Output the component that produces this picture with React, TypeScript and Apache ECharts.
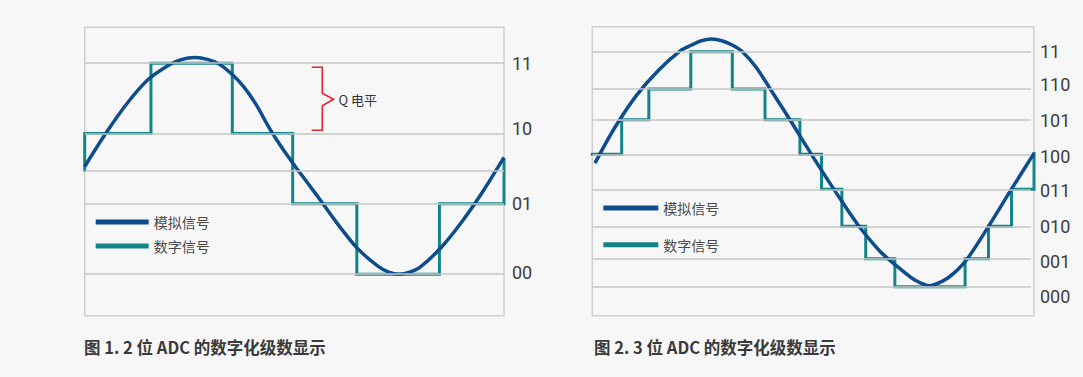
import React, { useEffect, useRef } from "react";
import * as echarts from "echarts";

// ---------- Left chart (2-bit ADC) ----------
const leftLevelLabels = ["00", "01", "10", "11"];
const leftLabelPos = [0.03, 1.0, 2.07, 3.0];
const leftGridValues = [0, 1, 1.47, 2, 3];
const leftAnalogX = [0, 5, 10, 15, 20, 23, 26.3, 29.5, 32, 35, 38, 41, 44, 47, 50, 53, 56, 60, 65, 70, 72.5, 75, 77.5, 80, 85, 90, 95, 100];
const leftAnalogY = [1.53, 2.0, 2.42, 2.76, 2.97, 3.05, 3.08, 3.05, 2.99, 2.85, 2.66, 2.4, 2.08, 1.8, 1.55, 1.31, 1.07, 0.74, 0.37, 0.11, 0.03, 0.0, 0.03, 0.1, 0.38, 0.75, 1.18, 1.66];
const leftStepX = [0, 15.8, 35.2, 49.6, 64.9, 84.6, 100];
const leftStepLevels = [2, 3, 2, 1, 0, 1];
const leftStepStart = 1.48;
const leftStepEnd = 1.62;

// ---------- Right chart (3-bit ADC) ----------
const rightLevelLabels = ["000", "001", "010", "011", "100", "101", "110", "11"];
const rightLevelPos = [0, 0.834, 1.799, 2.901, 3.944, 4.975, 5.889, 7];
const rightLabelPos = [-0.28, 0.76, 1.8, 2.86, 3.89, 4.94, 6.03, 7];
const rightAnalogX = [0.6, 5, 10, 15, 20, 22.5, 24.5, 27, 29.5, 32, 34, 37, 40, 45, 50, 55, 60, 65, 67, 70, 73, 76.4, 79.5, 82, 85, 90, 95, 100];
const rightAnalogY = [3.68, 4.72, 5.7, 6.45, 7.03, 7.2, 7.32, 7.38, 7.32, 7.18, 7.0, 6.55, 5.95, 4.92, 3.86, 2.84, 1.87, 1.07, 0.83, 0.5, 0.2, 0.03, 0.18, 0.42, 0.85, 1.86, 2.93, 3.97];
const rightStepX = [0, 6.65, 12.8, 22.3, 31.7, 39.1, 47.0, 51.9, 56.5, 61.9, 68.5, 84.4, 89.7, 94.9, 100];
const rightStepLevels = [4, 5, 6, 7, 6, 5, 4, 3, 2, 1, 0, 1, 2, 3];
const rightStepEnd = 3.97;

const seriesNames = ["模拟信号", "数字信号"];
const captions = ["图 1. 2 位 ADC 的数字化级数显示", "图 2. 3 位 ADC 的数字化级数显示"];
const bracketLabel = "Q 电平";

const ANALOG = "#0d4d8c";
const DIGITAL = "#138589";
const GRIDLINE = "#c6c6c6";
const BORDER = "#cfcfcf";
const BG = "#f7f7f7";

function stepPoints(xs: number[], levels: number[], start: number | null, end: number | null) {
  const pts: number[][] = [];
  if (start !== null) pts.push([xs[0], start]);
  for (let i = 0; i < levels.length; i++) {
    pts.push([xs[i], levels[i]]);
    pts.push([xs[i + 1], levels[i]]);
  }
  if (end !== null) pts.push([xs[xs.length - 1], end]);
  return pts;
}

function labelFormatter(pos: number[], labels: string[]) {
  return (v: number) => {
    let best = 0;
    for (let i = 1; i < pos.length; i++) {
      if (Math.abs(pos[i] - v) < Math.abs(pos[best] - v)) best = i;
    }
    return labels[best];
  };
}

export default function App() {
  const ref = useRef<HTMLDivElement>(null);
  useEffect(() => {
    document.body.style.margin = "0";
    document.body.style.background = BG;
    const chart = echarts.init(ref.current!, undefined, { renderer: "svg" });

    const axisLabelFont = {
      color: "#3d3d3d",
      fontSize: 18,
      fontFamily: "'Liberation Sans Narrow', 'Roboto', sans-serif",
    };
    const cjk = "'Noto Sans CJK SC', sans-serif";

    const leftDigital = stepPoints(leftStepX, leftStepLevels, leftStepStart, leftStepEnd);
    const rightDigital = stepPoints(
      rightStepX,
      rightStepLevels.map((i) => rightLevelPos[i]),
      null,
      rightStepEnd
    );

    const option: any = {
      animation: false,
      backgroundColor: BG,
      grid: [
        { left: 84.7, top: 27.3, width: 419.3, height: 288.4, show: true, borderColor: BORDER, borderWidth: 1.5, backgroundColor: "transparent" },
        { left: 592.3, top: 26.7, width: 441.7, height: 289, show: true, borderColor: BORDER, borderWidth: 1.5, backgroundColor: "transparent" },
      ],
      xAxis: [
        { type: "value", gridIndex: 0, min: 0, max: 100, show: false },
        { type: "value", gridIndex: 1, min: 0, max: 100, show: false },
      ],
      yAxis: [
        {
          type: "value", gridIndex: 0, min: -0.59, max: 3.51, position: "right",
          axisLine: { show: false }, axisTick: { show: false }, splitLine: { show: false },
          axisLabel: { ...axisLabelFont, margin: 8, customValues: leftLabelPos, formatter: labelFormatter(leftLabelPos, leftLevelLabels) },
        },
        {
          type: "value", gridIndex: 1, min: -0.864, max: 7.745, position: "right",
          axisLine: { show: false }, axisTick: { show: false }, splitLine: { show: false },
          axisLabel: { ...axisLabelFont, margin: 6, customValues: rightLabelPos, formatter: labelFormatter(rightLabelPos, rightLevelLabels) },
        },
      ],
      legend: [
        {
          left: 90.7, top: 210, orient: "vertical", itemWidth: 53, itemHeight: 5, itemGap: 10,
          icon: "rect", data: seriesNames,
          textStyle: { color: "#4a4a4a", fontSize: 14, fontFamily: cjk },
        },
        {
          left: 598.3, top: 196, orient: "vertical", itemWidth: 55, itemHeight: 5, itemGap: 22.7,
          icon: "rect", data: seriesNames,
          textStyle: { color: "#4a4a4a", fontSize: 14, fontFamily: cjk },
        },
      ],
      series: [
        {
          type: "line", xAxisIndex: 0, yAxisIndex: 0, data: [], z: 1, silent: true,
          markLine: {
            silent: true, symbol: "none", label: { show: false },
            lineStyle: { color: GRIDLINE, width: 1.5, type: "solid" },
            data: leftGridValues.map((v) => ({ yAxis: v })),
          },
        },
        {
          type: "line", xAxisIndex: 1, yAxisIndex: 1, data: [], z: 1, silent: true,
          markLine: {
            silent: true, symbol: "none", label: { show: false },
            lineStyle: { color: GRIDLINE, width: 1.5, type: "solid" },
            data: rightLevelPos.map((v) => [{ coord: [0, v] }, { coord: [99.3, v] }]),
          },
        },
        {
          name: seriesNames[1], type: "line", xAxisIndex: 0, yAxisIndex: 0, z: 3,
          data: leftDigital, showSymbol: false, color: DIGITAL,
          lineStyle: { color: DIGITAL, width: 3, join: "miter", cap: "square" },
        },
        {
          name: seriesNames[0], type: "line", xAxisIndex: 0, yAxisIndex: 0, z: 4,
          data: leftAnalogX.map((x, i) => [x, leftAnalogY[i]]), smooth: 0.3, showSymbol: false, color: ANALOG,
          lineStyle: { color: ANALOG, width: 3.5 },
        },
        {
          name: seriesNames[1], type: "line", xAxisIndex: 1, yAxisIndex: 1, z: 3,
          data: rightDigital, showSymbol: false, color: DIGITAL,
          lineStyle: { color: DIGITAL, width: 3, join: "miter", cap: "square" },
        },
        {
          name: seriesNames[0], type: "line", xAxisIndex: 1, yAxisIndex: 1, z: 4,
          data: rightAnalogX.map((x, i) => [x, rightAnalogY[i]]), smooth: 0.3, showSymbol: false, color: ANALOG,
          lineStyle: { color: ANALOG, width: 3.5 },
        },
      ],
      graphic: [
        {
          type: "polyline", silent: true,
          shape: { points: [[311.7, 67.3], [322.3, 67.3], [322.3, 93.3], [333.5, 99.3], [322.3, 105.7], [322.3, 130.3], [311.7, 130.3]] },
          style: { stroke: "#e5232b", lineWidth: 1.6, fill: null },
        },
        {
          type: "text", x: 338.5, y: 99.5, silent: true,
          style: { text: bracketLabel, fill: "#333", fontSize: 13, fontFamily: cjk, verticalAlign: "middle" },
        },
        {
          type: "text", x: 84, y: 346.7, silent: true,
          style: { text: captions[0], fill: "#3a3a3a", fontSize: 16.5, fontWeight: "bold", fontFamily: cjk, verticalAlign: "middle" },
        },
        {
          type: "text", x: 594, y: 346.7, silent: true,
          style: { text: captions[1], fill: "#3a3a3a", fontSize: 16.5, fontWeight: "bold", fontFamily: cjk, verticalAlign: "middle" },
        },
      ],
    };
    chart.setOption(option);
    return () => chart.dispose();
  }, []);
  return <div ref={ref} style={{ width: 1083, height: 377, background: BG }} />;
}
